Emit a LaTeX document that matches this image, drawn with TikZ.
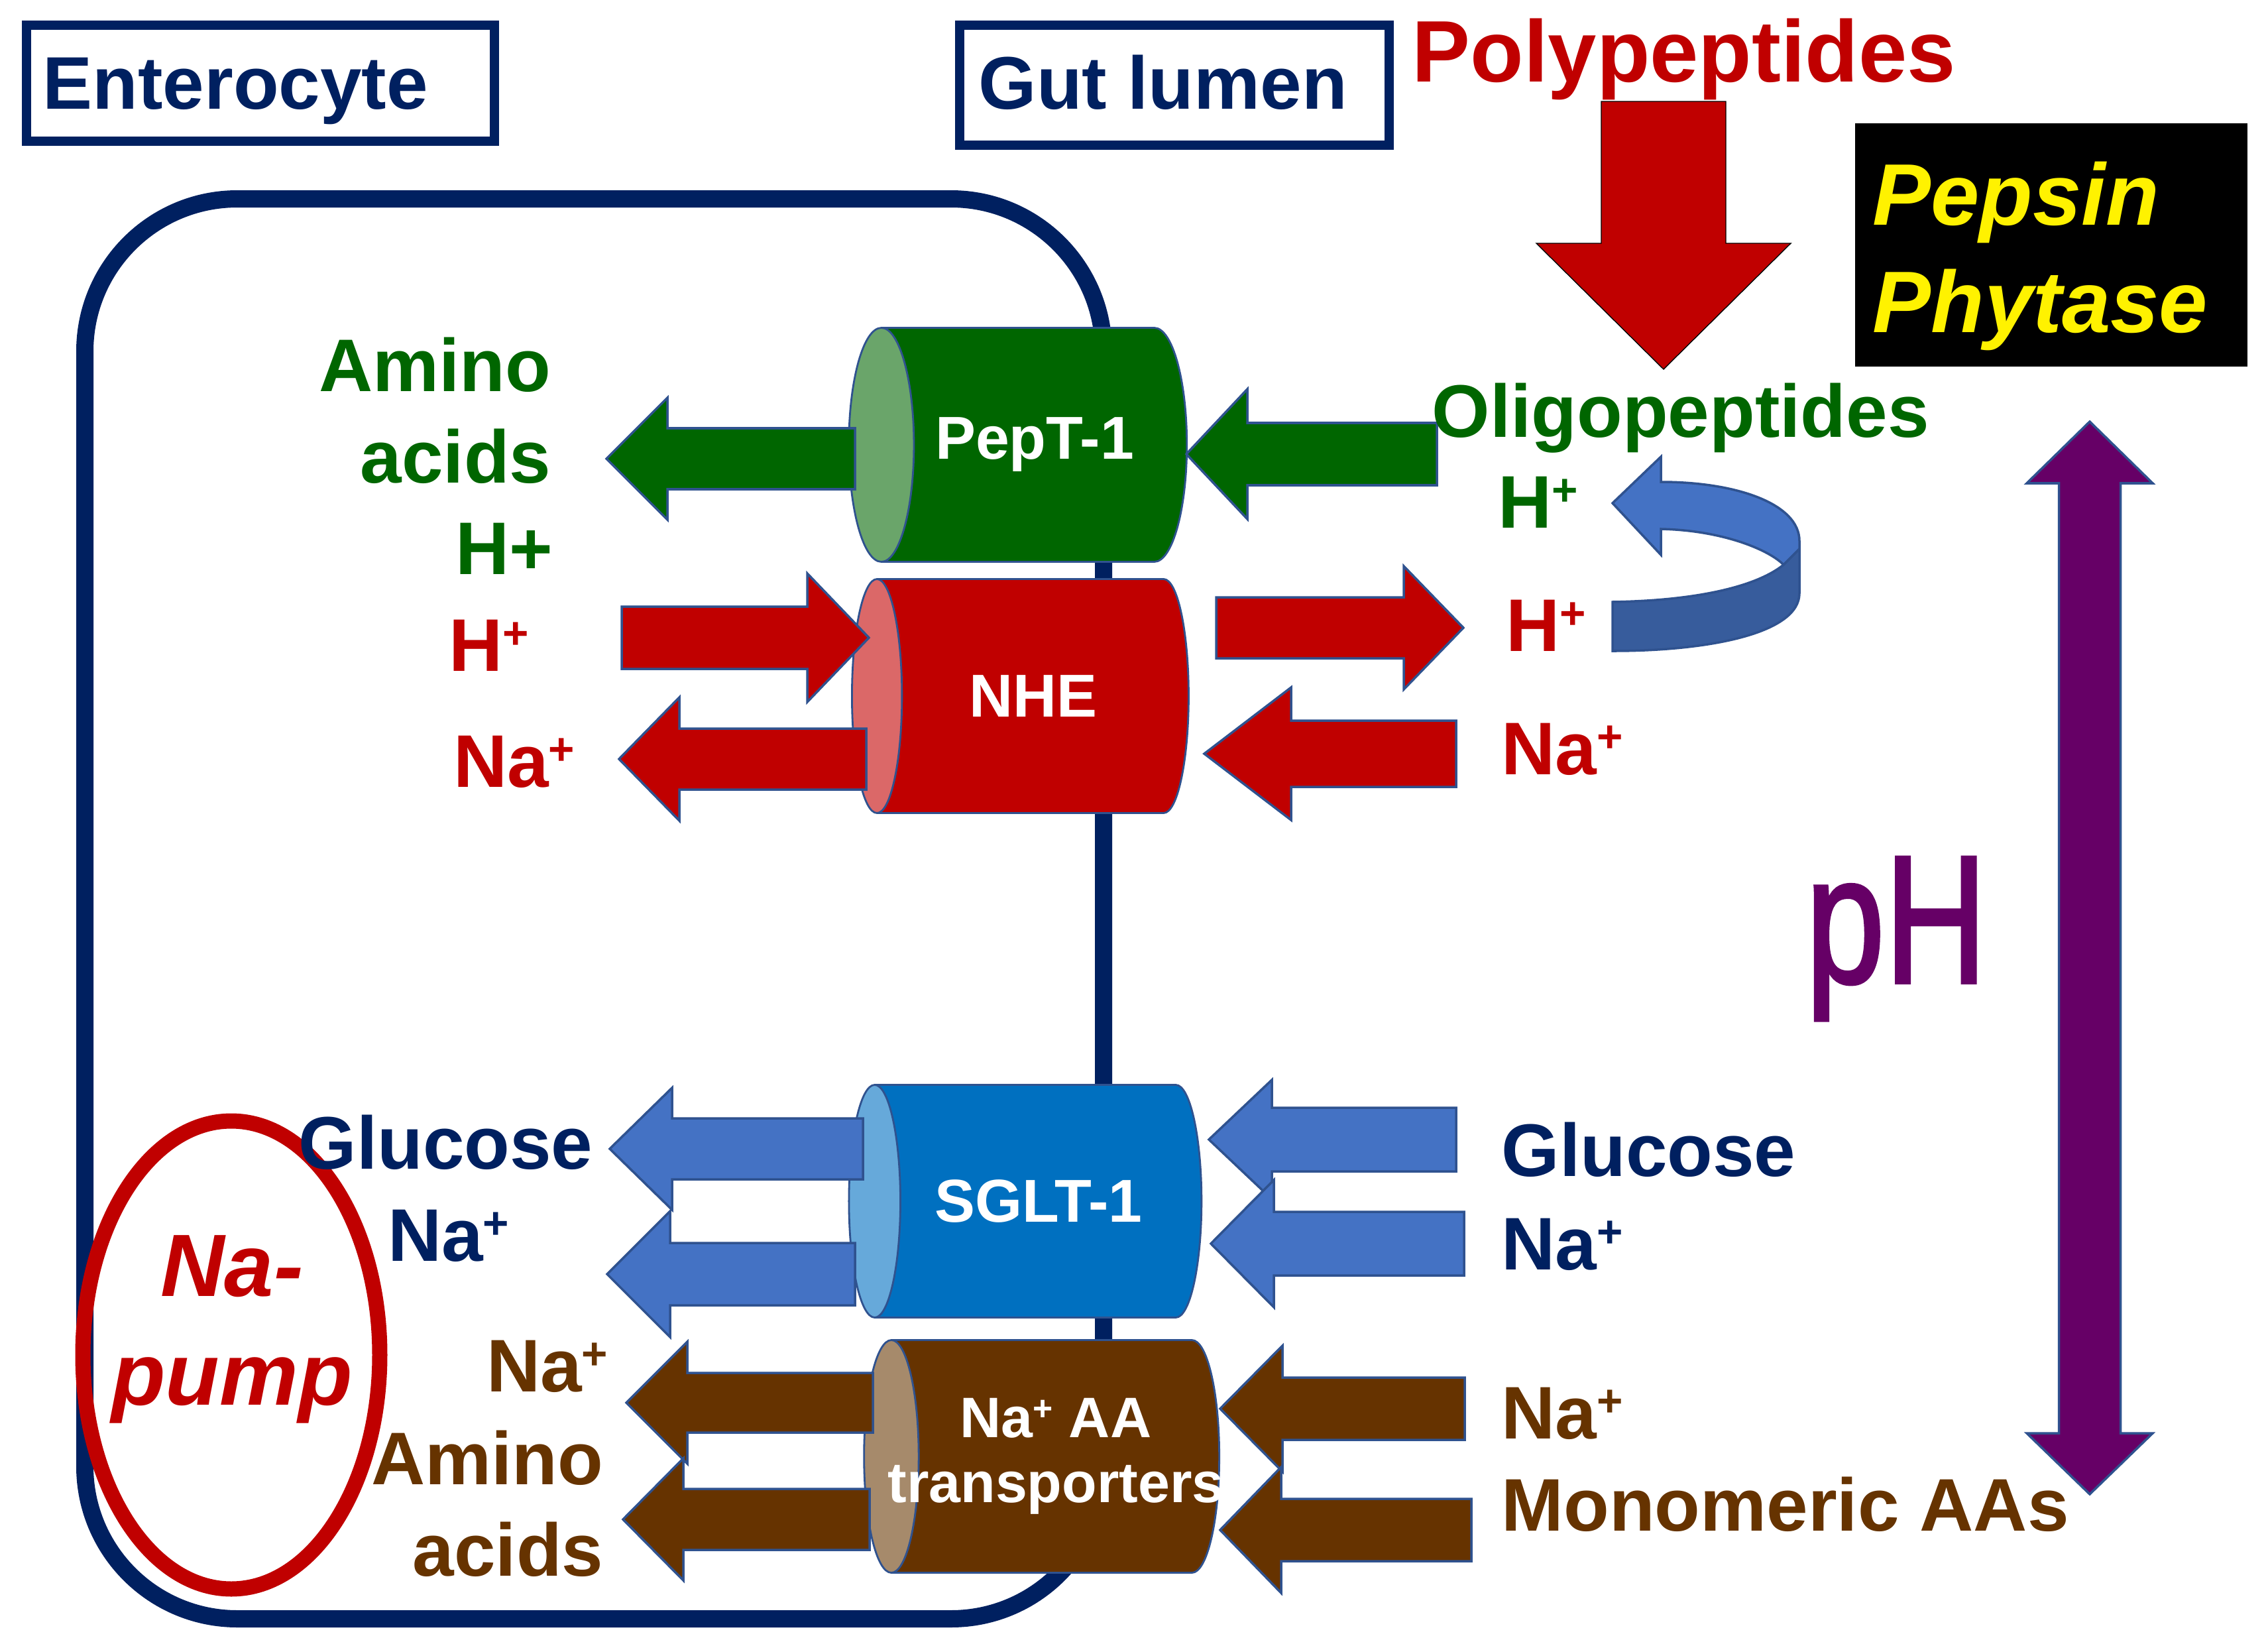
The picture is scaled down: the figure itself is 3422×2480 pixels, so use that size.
\documentclass[tikz,border=0pt]{standalone}
\usepackage{fontspec}
\setmainfont{Liberation Sans}
\newfontfamily\phfont{Liberation Sans}[FakeBold=2]
\usepackage{graphicx}
\usetikzlibrary{calc,shapes.geometric}

\definecolor{cellnavy}{HTML}{002060}
\definecolor{pepgreen}{HTML}{006600}
\definecolor{pepface}{HTML}{6AA56A}
\definecolor{nhered}{HTML}{C00000}
\definecolor{nheface}{HTML}{DB6868}
\definecolor{sgltblue}{HTML}{0070C0}
\definecolor{sgltface}{HTML}{66A9DA}
\definecolor{aabrown}{HTML}{663300}
\definecolor{aaface}{HTML}{A68A6B}
\definecolor{flowblue}{HTML}{4472C4}
\definecolor{edgeblue}{HTML}{2F528F}
\definecolor{loopdark}{HTML}{375C9C}
\definecolor{phpurple}{HTML}{660066}

% superscript plus of the ions
\newcommand{\ionp}{\raisebox{0.3em}{\scalebox{0.6}{+}}}
% block arrow: style, tail, tip, half shaft, half head, head length
\newcommand{\blockarrow}[6]{%
  \coordinate (ba-h) at ($(#3)!#6!(#2)$);
  \draw[#1] ($(#2)!#4!90:(#3)$) -- ($(ba-h)!#4!-90:(#2)$) -- ($(ba-h)!#5!-90:(#2)$) -- (#3)
    -- ($(ba-h)!#5!90:(#2)$) -- ($(ba-h)!#4!90:(#2)$) -- ($(#2)!#4!-90:(#3)$) -- cycle;
}

\tikzset{
  lbl/.style={inner sep=0pt, font=\fontsize{32}{39}\selectfont\bfseries},
  titlebox/.style={draw=cellnavy, line width=1.4mm},
  cellline/.style={draw=cellnavy, line width=2.6mm, rounded corners=23mm},
  arrowline/.style={draw=edgeblue, line width=1pt},
  pepflow/.style={arrowline, fill=pepgreen},
  nheflow/.style={arrowline, fill=nhered},
  sgltflow/.style={arrowline, fill=flowblue},
  aaflow/.style={arrowline, fill=aabrown},
  transporter/.style={cylinder, shape border rotate=180, aspect=1.2, draw=edgeblue,
    line width=0.8pt, cylinder uses custom fill, inner sep=0pt, text=white,
    font=\fontsize{26}{30}\selectfont\bfseries},
}

\begin{document}
\begin{tikzpicture}[x=0.1mm, y=-0.1mm]
\useasboundingbox (0,0) rectangle (3422,2480);

% titles
\draw[titlebox] (40,38) rectangle (746,213);
\node[lbl, text=cellnavy, anchor=base west] (enterocyte) at (64,164) {Enterocyte};
\draw[titlebox] (1448,38) rectangle (2096,219);
\node[lbl, text=cellnavy, anchor=base west] (gutlumen) at (1476,164) {Gut lumen};
\node[lbl, text=nhered, anchor=base west, font=\fontsize{37.5}{44}\selectfont\bfseries] (polypep) at (2130,123) {Polypeptides};
\fill (2799,186) rectangle (3391,553);
\node[lbl, text=yellow, anchor=base west, align=left, font=\fontsize{37.5}{46}\selectfont\bfseries\itshape] (enzymes) at (2825,501) {Pepsin\\Phytase};

% cell and pump
\draw[cellline] (128,300) rectangle (1665,2442);
\draw[draw=nhered, line width=2.3mm] (349,2044) ellipse [x radius=224, y radius=353];
\node[lbl, text=nhered, align=center, anchor=base, font=\fontsize{38}{46.5}\selectfont\bfseries\itshape] (napump) at (350,2119) {Na-\\pump};

% transporters
\node[transporter, cylinder body fill=pepgreen, cylinder end fill=pepface,
  minimum height=51mm, minimum width=35.3mm] (pept) at (1561,671) {PepT-1};
\node[transporter, cylinder body fill=nhered, cylinder end fill=nheface,
  minimum height=50.8mm, minimum width=35.3mm] (nhe) at (1559,1050) {NHE};
\node[transporter, cylinder body fill=sgltblue, cylinder end fill=sgltface,
  minimum height=53.2mm, minimum width=35.1mm] (sglt) at (1567,1812) {SGLT-1};
\node[transporter, cylinder body fill=aabrown, cylinder end fill=aaface, align=center, aspect=0.47,
  minimum height=53.6mm, minimum width=35.1mm, font=\fontsize{24.5}{28}\selectfont\bfseries] (naaa) at (1593,2197) {Na\ionp{} AA\\\makebox[0pt]{transporters}};

% arrow ends
\coordinate (pept-w) at (1290,692);
\coordinate (aa-out) at (915,692);
\coordinate (oligo-w) at (2168,685);
\coordinate (pept-e) at (1790,685);
\coordinate (h-in) at (938,962);
\coordinate (nhe-w) at (1311,962);
\coordinate (nhe-sw) at (1307,1145);
\coordinate (na-out) at (934,1145);
\coordinate (nhe-e) at (1835,947);
\coordinate (h-lumen) at (2208,947);
\coordinate (na-lumen) at (2197,1137);
\coordinate (nhe-se) at (1817,1137);
\coordinate (sglt-w) at (1302,1733);
\coordinate (glc-out) at (920,1733);
\coordinate (sglt-sw) at (1290,1922);
\coordinate (sna-out) at (916,1922);
\coordinate (glc-lumen) at (2197,1719);
\coordinate (sglt-e) at (1824,1719);
\coordinate (sna-lumen) at (2209,1876);
\coordinate (sglt-se) at (1827,1876);
\coordinate (naaa-w) at (1317,2116);
\coordinate (ana-out) at (945,2116);
\coordinate (naaa-sw) at (1312,2292);
\coordinate (maa-out) at (940,2292);
\coordinate (ana-lumen) at (2210,2125);
\coordinate (naaa-e) at (1841,2125);
\coordinate (maa-lumen) at (2220,2308);
\coordinate (naaa-se) at (1841,2308);

% flows
\blockarrow{pepflow}{pept-w}{aa-out}{4.6mm}{9.2mm}{9.2mm}
\blockarrow{pepflow}{oligo-w}{pept-e}{4.7mm}{9.8mm}{9.2mm}
\blockarrow{nheflow}{h-in}{nhe-w}{4.7mm}{9.7mm}{9.3mm}
\blockarrow{nheflow}{nhe-sw}{na-out}{4.6mm}{9.3mm}{9.1mm}
\blockarrow{nheflow}{nhe-e}{h-lumen}{4.6mm}{9.3mm}{9.0mm}
\blockarrow{nheflow}{na-lumen}{nhe-se}{5.0mm}{10mm}{13.1mm}
\blockarrow{sgltflow}{sglt-w}{glc-out}{4.6mm}{9.2mm}{9.4mm}
\blockarrow{sgltflow}{sglt-sw}{sna-out}{4.7mm}{9.5mm}{9.5mm}
\blockarrow{sgltflow}{glc-lumen}{sglt-e}{4.8mm}{9.0mm}{9.5mm}
\blockarrow{sgltflow}{sna-lumen}{sglt-se}{4.8mm}{9.6mm}{9.5mm}
\blockarrow{aaflow}{naaa-w}{ana-out}{4.5mm}{9.2mm}{9.2mm}
\blockarrow{aaflow}{naaa-sw}{maa-out}{4.6mm}{9.2mm}{9.1mm}
\blockarrow{aaflow}{ana-lumen}{naaa-e}{4.7mm}{9.5mm}{9.4mm}
\blockarrow{aaflow}{maa-lumen}{naaa-se}{4.7mm}{9.5mm}{9.2mm}

% digestion
\coordinate (poly-s) at (2510,153);
\coordinate (oligo-n) at (2510,557);
\blockarrow{fill=nhered}{poly-s}{oligo-n}{9.4mm}{19.2mm}{19mm}

% H+ recycling
\coordinate (loop-tip) at (2433,759);
\coordinate (loop-tail) at (2433,908);
\filldraw[arrowline, fill=flowblue] (2715,816) .. controls (2715,760) and (2620,727) .. (2506,727)
  -- (2506,689) -- (loop-tip) -- (2506,837) -- (2506,798)
  .. controls (2600,800) and (2670,830) .. (2691,852) -- (2715,828) -- cycle;
\filldraw[arrowline, fill=loopdark] (loop-tail) .. controls (2560,906) and (2650,885) .. (2691,852)
  -- (2715,828) -- (2715,895) .. controls (2715,955) and (2580,982) .. (2433,982) -- cycle;

% pH
\coordinate (phtop) at (3153,636);
\coordinate (phbot) at (3153,2254);
\draw[arrowline, fill=phpurple] (phtop) -- ++(95,93) -- ++(-48.5,0) -- ++(0,1433) -- ++(48.5,0)
  -- (phbot) -- ++(-95,-92) -- ++(48.5,0) -- ++(0,-1433) -- ++(-48.5,0) -- cycle;
\node[inner sep=0pt, anchor=base west, text=phpurple, font=\phfont\fontsize{78}{80}\selectfont] (ph) at (2724,1482) {\scalebox{0.78}[1]{pH}};

% enterocyte side
\node[lbl, text=pepgreen, anchor=base east, align=right] (aa-in) at (832,728) {Amino\\acids};
\node[lbl, text=pepgreen, anchor=base east] (hg-in) at (835,866) {H+};
\node[lbl, text=nhered, anchor=base east] (hr-in) at (799,1012) {H\ionp};
\node[lbl, text=nhered, anchor=base east] (nar-in) at (868,1187) {Na\ionp};
\node[lbl, text=cellnavy, anchor=base east] (glc-in) at (895,1763) {Glucose};
\node[lbl, text=cellnavy, anchor=base east] (nab-in) at (769,1902) {Na\ionp};
\node[lbl, text=aabrown, anchor=base east] (nabr-in) at (918,2099) {Na\ionp};
\node[lbl, text=aabrown, anchor=base east, align=right] (aabr-in) at (911,2377) {Amino\\acids};

% lumen side
\node[lbl, text=pepgreen, anchor=base west] (oligo) at (2160,659) {Oligopeptides};
\node[lbl, text=pepgreen, anchor=base west] (hg-lu) at (2260,796) {H\ionp};
\node[lbl, text=nhered, anchor=base west] (hr-lu) at (2272,982) {H\ionp};
\node[lbl, text=nhered, anchor=base west] (nar-lu) at (2265,1168) {Na\ionp};
\node[lbl, text=cellnavy, anchor=base west] (glc-lu) at (2265,1774) {Glucose};
\node[lbl, text=cellnavy, anchor=base west] (nab-lu) at (2265,1915) {Na\ionp};
\node[lbl, text=aabrown, anchor=base west] (nabr-lu) at (2265,2170) {Na\ionp};
\node[lbl, text=aabrown, anchor=base west] (maa-lu) at (2265,2309) {Monomeric AAs};
\end{tikzpicture}
\end{document}
